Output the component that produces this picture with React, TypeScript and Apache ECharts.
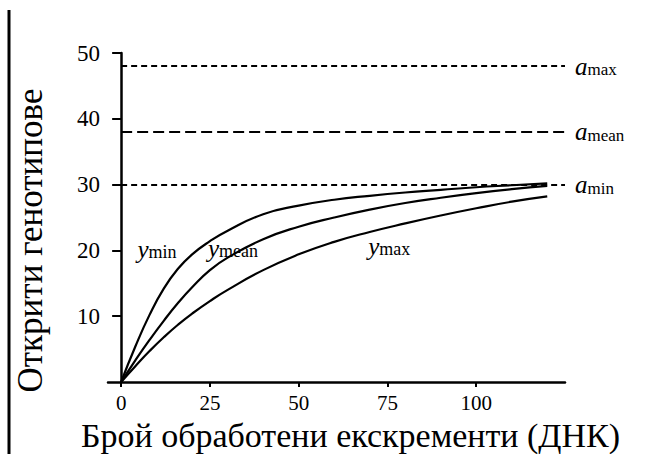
import React, { useEffect, useRef } from "react";
import * as echarts from "echarts";

// ---- data ----
const xValues = [0, 4, 8, 12, 16, 20, 25, 30, 40, 50, 60, 70, 80, 90, 100, 110, 120];
const yMinValues = [0, 5.4, 10.2, 14.2, 17.2, 19.4, 21.4, 23.0, 25.5, 26.8, 27.7, 28.3, 28.8, 29.2, 29.6, 29.9, 30.2];
const yMeanValues = [0, 3.3, 6.4, 9.3, 12.0, 14.4, 17.0, 18.9, 21.7, 23.6, 25.0, 26.2, 27.2, 28.0, 28.7, 29.3, 29.8];
const yMaxValues = [0, 2.4, 4.7, 6.8, 8.7, 10.4, 12.3, 14.0, 17.0, 19.4, 21.3, 22.8, 24.1, 25.3, 26.4, 27.4, 28.2];

const asymptoteNames = ["max", "mean", "min"];
const asymptoteValues = [48, 38, 30];
const asymptoteStart = 0;
const asymptoteEnd = 125;

const curveNames = ["min", "mean", "max"];
const xTickValues = [0, 25, 50, 75, 100];
const yMinValue = 0;
const yMaxValue = 50;
const yInterval = 10;
const xMinValue = -3.7;
const xMaxValue = 125;

const xAxisTitle = "Брой обработени екскременти (ДНК)";
const yAxisTitle = "Открити генотипове";

const SERIF = "Liberation Serif, Times New Roman, serif";
const INK = "#000";

export default function App() {
  const ref = useRef<HTMLDivElement>(null);

  useEffect(() => {
    document.body.style.margin = "0";
    if (!ref.current) return;
    const chart = echarts.init(ref.current, undefined, { renderer: "svg" });

    const curveSeries = [yMinValues, yMeanValues, yMaxValues];
    const curveLabelAnchors = [
      [10.1, 20.2],
      [31.5, 20.3],
      [75.5, 20.6],
    ];

    const richY = {
      v: { fontFamily: SERIF, fontStyle: "italic", fontSize: 25, color: INK, lineHeight: 24 },
      s: { fontFamily: SERIF, fontSize: 18, color: INK, lineHeight: 12, verticalAlign: "bottom" },
    };
    const richA = {
      v: { fontFamily: SERIF, fontStyle: "italic", fontSize: 25, color: INK, lineHeight: 24 },
      s: { fontFamily: SERIF, fontSize: 17, color: INK, lineHeight: 16, verticalAlign: "bottom" },
    };

    const dashPatterns = [[6, 4], [11, 5], [6, 4]];

    const series: any[] = curveSeries.map((vals, i) => ({
      type: "line",
      name: "y" + curveNames[i],
      data: xValues.map((x, j) => [x, vals[j]]),
      smooth: 0.5,
      showSymbol: false,
      symbol: "none",
      lineStyle: { color: INK, width: 2.2 },
      silent: true,
      markPoint: {
        symbol: "circle",
        symbolSize: 0,
        silent: true,
        data: [
          {
            coord: curveLabelAnchors[i],
            label: {
              show: true,
              position: "inside",
              formatter: "{v|y}{s|" + curveNames[i] + "}",
              rich: richY,
            },
          },
        ],
      },
    }));

    series.push({
      type: "line",
      name: "asymptotes",
      data: [],
      silent: true,
      markLine: {
        silent: true,
        symbol: ["none", "none"],
        data: asymptoteValues.map((v, i) => [
          {
            coord: [asymptoteStart, v],
            lineStyle: { color: INK, width: 2, type: dashPatterns[i] },
            label: {
              show: true,
              position: "end",
              distance: 10,
              formatter: "{v|a}{s|" + asymptoteNames[i] + "}",
              rich: richA,
            },
          },
          { coord: [asymptoteEnd, v] },
        ]),
      },
    });

    chart.setOption({
      animation: false,
      backgroundColor: "#fff",
      grid: {
        left: 108,
        right: 88,
        top: 53,
        bottom: 72,
        containLabel: false,
        outerBoundsMode: "none",
      },
      xAxis: {
        type: "value",
        min: xMinValue,
        max: xMaxValue,
        name: xAxisTitle,
        nameLocation: "middle",
        nameGap: 39,
        nameMoveOverlap: false,
        nameTextStyle: {
          fontFamily: SERIF,
          fontSize: 34,
          lineHeight: 28,
          color: INK,
          padding: [0, 0, 0, 28],
        },
        splitLine: { show: false },
        axisLine: { show: true, onZero: true, lineStyle: { color: INK, width: 2.5 } },
        axisTick: {
          show: true,
          customValues: xTickValues,
          length: 5,
          lineStyle: { color: INK, width: 2 },
        },
        axisLabel: {
          customValues: xTickValues,
          fontFamily: SERIF,
          fontSize: 21,
          lineHeight: 20,
          color: INK,
          margin: 11,
        },
      },
      yAxis: {
        type: "value",
        min: yMinValue,
        max: yMaxValue,
        interval: yInterval,
        name: yAxisTitle,
        nameLocation: "middle",
        nameGap: 60,
        nameMoveOverlap: false,
        nameTextStyle: {
          fontFamily: SERIF,
          fontSize: 35,
          color: INK,
          padding: [0, 46, 0, 0],
        },
        splitLine: { show: false },
        axisLine: { show: true, onZero: true, lineStyle: { color: INK, width: 2.5 } },
        axisTick: { show: true, length: 9, lineStyle: { color: INK, width: 2 } },
        axisLabel: {
          showMinLabel: false,
          fontFamily: SERIF,
          fontSize: 23,
          color: INK,
          margin: 8,
        },
      },
      graphic: [
        {
          type: "line",
          shape: { x1: 9, y1: 10, x2: 9, y2: 454 },
          style: { stroke: INK, lineWidth: 3 },
          silent: true,
        },
      ],
      series,
    });

    return () => chart.dispose();
  }, []);

  return <div ref={ref} style={{ width: 653, height: 454 }} />;
}
